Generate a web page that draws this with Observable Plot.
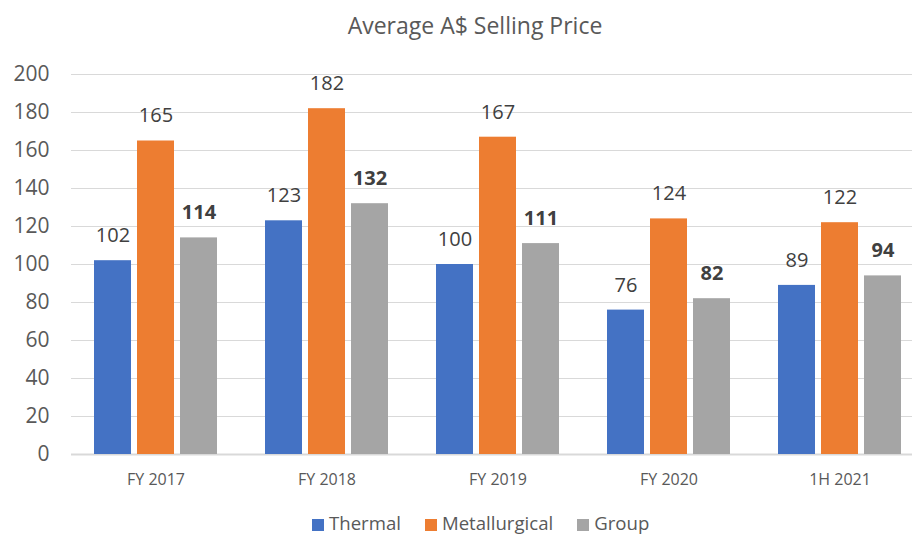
<!DOCTYPE html>
<html>
<head>
<meta charset="utf-8">
<script src="https://cdn.jsdelivr.net/npm/d3@7"></script>
<script src="https://cdn.jsdelivr.net/npm/@observablehq/plot@0.6"></script>
<style>
  html, body { margin: 0; padding: 0; background: #fff; }
  #wrap { position: relative; width: 912px; height: 536px; overflow: hidden; font-family: "Open Sans", "Noto Sans", sans-serif; }
  #title { position: absolute; top: 7px; left: 475px; transform: translateX(-50%); white-space: nowrap; font-size: 23px; color: #595959; line-height: 36px; }
  #chart { position: absolute; top: 50px; left: 0; }
  #legend { position: absolute; top: 513px; left: 312px; display: flex; align-items: center; font-size: 18.6px; color: #595959; line-height: 20px; white-space: nowrap; }
  .item { display: flex; align-items: center; margin-right: 24px; }
  .sw { width: 12px; height: 12px; margin-right: 5px; margin-top: 3px; }
</style>
</head>
<body>
<div id="wrap">
  <div id="title">Average A$ Selling Price</div>
  <div id="chart"></div>
  <div id="legend"></div>
</div>
<script>
const categories = ["FY 2017", "FY 2018", "FY 2019", "FY 2020", "1H 2021"];
const thermal = [102, 123, 100, 76, 89];
const metallurgical = [165, 182, 167, 124, 122];
const group = [114, 132, 111, 82, 94];
const seriesNames = ["Thermal", "Metallurgical", "Group"];
const seriesColors = ["#4472C4", "#ED7D31", "#A5A5A5"];
const yTicks = [0, 20, 40, 60, 80, 100, 120, 140, 160, 180, 200];

const seriesValues = [thermal, metallurgical, group];
const offsets = [-43, 0, 43];
const weights = ["normal", "normal", "bold"];

const marks = [
  Plot.ruleY(yTicks.filter(d => d > 0), {stroke: "#D9D9D9", strokeWidth: 1}),
  Plot.ruleY([0], {stroke: "#D9D9D9", strokeWidth: 2})
];

seriesNames.forEach((name, i) => {
  const rows = categories.map((c, j) => ({category: c, series: name, value: seriesValues[i][j]}));
  marks.push(Plot.barY(rows, {
    x: "category", y: "value", fill: seriesColors[i],
    insetLeft: 67, insetRight: 67, dx: offsets[i]
  }));
  marks.push(Plot.text(rows, {
    x: "category", y: "value", text: d => String(d.value),
    dx: offsets[i], dy: -25, lineAnchor: "middle", textAnchor: "middle",
    fontSize: 20, fontWeight: weights[i], fill: "#404040"
  }));
});

marks.push(Plot.axisY({ticks: yTicks, tickSize: 0, tickPadding: 22, fontSize: 21, tickFormat: d => String(d)}));
marks.push(Plot.axisX({tickSize: 0, tickPadding: 19, fontSize: 16}));

const chart = Plot.plot({
  width: 912,
  height: 460,
  marginTop: 24,
  marginBottom: 56,
  marginLeft: 71,
  marginRight: 0,
  style: {fontFamily: '"Open Sans", "Noto Sans", sans-serif', color: "#595959", background: "white", overflow: "hidden"},
  x: {domain: categories, range: [70, 925], padding: 0, label: null},
  y: {domain: [0, 200], label: null},
  marks
});
document.getElementById("chart").appendChild(chart);

const legend = document.getElementById("legend");
seriesNames.forEach((name, i) => {
  const item = document.createElement("div");
  item.className = "item";
  const sw = document.createElement("div");
  sw.className = "sw";
  sw.style.background = seriesColors[i];
  const label = document.createElement("span");
  label.textContent = name;
  item.appendChild(sw);
  item.appendChild(label);
  legend.appendChild(item);
});
</script>
</body>
</html>
